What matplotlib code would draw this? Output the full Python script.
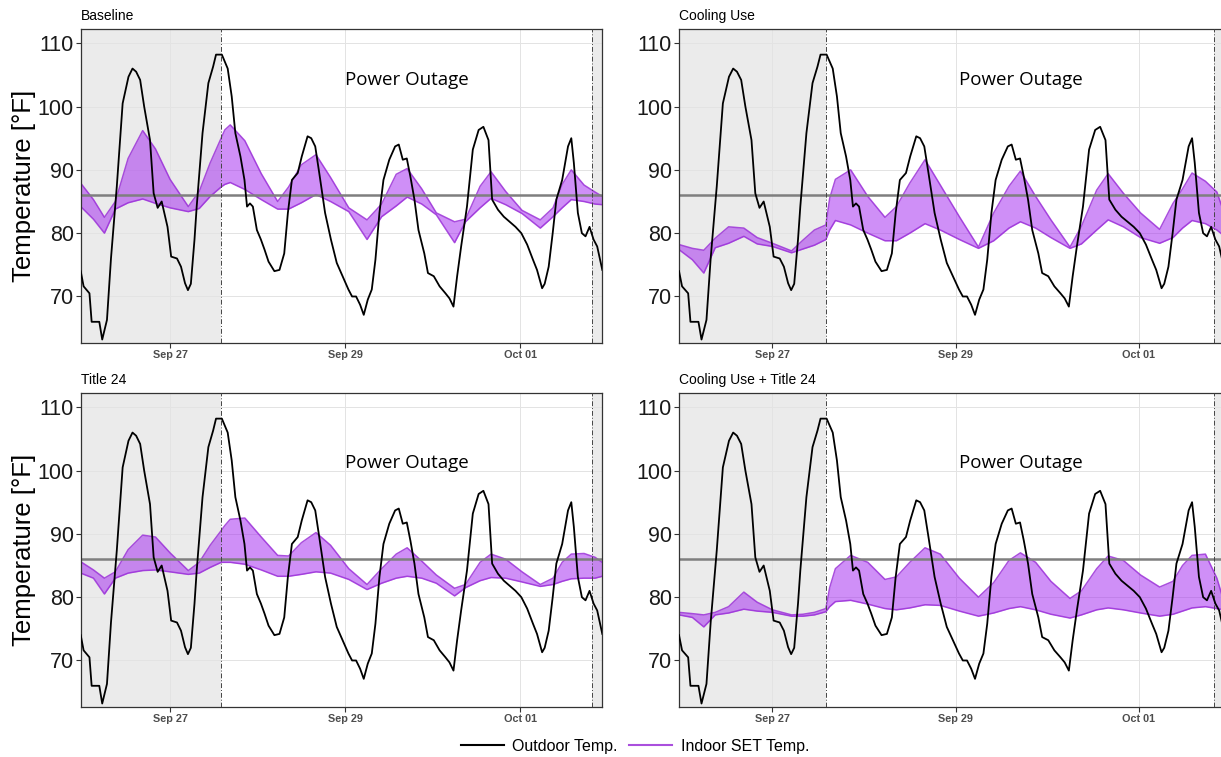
"""Outdoor vs indoor SET temperature during the late-September outage, four building cases."""
import numpy as np
import matplotlib
matplotlib.use('Agg')
import matplotlib.pyplot as plt
import matplotlib.dates as mdates
from matplotlib.lines import Line2D

plt.rcParams['font.family'] = ['Liberation Sans', 'DejaVu Sans']

START = np.datetime64('2020-09-26T00:00')

# outdoor dry-bulb, hours after Sep 26 00:00
out_hours = [-0.5, 0.3, 1.9, 2.5, 4.6, 5.4, 6.7, 7.8, 9.4, 11.0, 12.6, 13.7, 14.7, 15.8, 16.9,
             18.5, 19.5, 20.6, 21.7, 23.3, 24.3, 25.9, 27.0, 28.1, 28.9, 29.7, 30.7, 31.3, 32.9,
             34.5, 35.8, 36.6, 38.2, 39.8, 40.9, 41.9, 43.3, 44.4, 45.1, 45.9, 46.7, 47.8, 48.9,
             49.9, 51.0, 52.6, 54.0, 55.3, 56.3, 57.4, 59.0, 60.1, 61.7, 62.7, 63.8, 64.9, 66.5,
             68.1, 69.7, 71.3, 72.9, 73.9, 75.0, 76.1, 77.1, 78.2, 79.3, 80.3, 81.4, 82.5, 84.1,
             85.7, 86.7, 87.8, 88.9, 89.9, 91.0, 92.1, 93.7, 94.7, 96.3, 97.9, 99.5, 100.6, 101.7,
             102.7, 103.8, 105.4, 107.0, 108.6, 109.9, 111.3, 112.3, 113.9, 115.5, 117.1, 118.7,
             120.3, 121.9, 123.5, 124.6, 126.0, 126.7, 127.8, 128.9, 129.9, 131.5, 133.1, 134.0,
             134.7, 135.8, 136.9, 137.9, 139.0, 140.1, 141.1, 142.5]
out_temp = [74.0, 71.6, 70.5, 66.0, 66.0, 63.2, 66.3, 76.0, 87.4, 100.5, 104.7, 106.0, 105.5, 104.2, 100.0,
            94.7, 86.3, 84.0, 85.0, 81.0, 76.3, 76.0, 74.7, 72.1, 71.0, 72.0, 79.0, 84.2, 95.8,
            103.7, 106.3, 108.2, 108.2, 106.0, 101.6, 95.8, 92.1, 88.4, 84.2, 84.7, 84.2, 80.5, 79.0,
            77.4, 75.5, 74.0, 74.2, 76.8, 83.2, 88.4, 89.5, 92.1, 95.3, 95.0, 93.7, 89.5, 83.2,
            79.0, 75.3, 73.2, 71.1, 70.0, 70.0, 68.7, 67.1, 69.5, 71.1, 75.8, 83.2, 88.4, 91.6,
            93.7, 94.0, 91.6, 91.8, 88.9, 85.3, 80.5, 76.8, 73.7, 73.2, 71.6, 70.5, 69.7, 68.4,
            73.2, 77.9, 84.2, 93.2, 96.3, 96.8, 94.7, 85.3, 83.7, 82.6, 81.8, 81.0,
            80.0, 78.2, 75.8, 74.2, 71.3, 72.0, 74.7, 80.0, 85.3, 88.4, 93.7, 95.0,
            91.1, 83.2, 80.0, 79.5, 81.0, 79.0, 77.9, 74.2]

# indoor SET envelope (upper / lower), same hour grid for every case
set_hours = [-0.5, 3, 6, 9, 12.5, 16.5, 20, 24, 29, 32, 35, 38, 39, 40.5, 44.5, 49, 53.5, 56.5,
             60, 64, 68, 73, 78, 82, 86, 89, 93, 97, 102, 105, 109, 112, 116, 120.5, 125.5,
             129, 131.5, 134, 137.5, 140.5, 142.5]
baseline_hi = [87.9, 85.3, 82.5, 85.0, 91.8, 96.2, 93.3, 88.5, 84.2, 86.6, 91.1, 95.0, 96.3, 97.1,
               94.6, 89.4, 85.0, 87.3, 90.8, 92.4, 88.8, 84.0, 82.1, 84.6, 89.3, 90.2, 87.0, 83.2,
               81.8, 82.2, 87.4, 89.7, 86.6, 83.6, 82.1, 84.0, 87.7, 90.0, 87.6, 86.5, 85.8]
baseline_lo = [84.2, 82.2, 80.0, 83.8, 84.8, 85.4, 84.7, 84.0, 83.4, 83.9, 85.8, 87.3, 87.7, 88.0,
               86.9, 85.3, 83.8, 83.8, 84.8, 86.1, 85.0, 83.4, 79.0, 82.6, 84.3, 85.7, 84.6, 82.9,
               78.5, 81.8, 84.0, 85.5, 84.5, 83.1, 80.8, 82.6, 84.0, 85.3, 85.0, 84.6, 84.5]
cooling_hi = [78.2, 77.6, 77.3, 79.2, 81.0, 80.8, 79.3, 78.4, 77.2, 78.9, 80.5, 81.3, 85.5, 88.5,
              90.0, 85.8, 82.5, 84.2, 87.9, 91.6, 87.6, 82.6, 77.8, 83.2, 87.4, 89.8, 85.8, 82.1,
              77.8, 81.1, 86.8, 89.4, 86.3, 83.2, 80.6, 84.7, 87.0, 89.5, 88.2, 86.5, 83.0]
cooling_lo = [77.4, 75.8, 73.7, 77.7, 78.4, 79.5, 78.3, 77.9, 76.9, 77.5, 78.1, 79.0, 80.5, 82.0,
              81.3, 80.0, 78.8, 78.8, 80.0, 81.5, 80.5, 79.0, 77.6, 78.8, 80.8, 81.8, 80.8, 79.3,
              77.6, 78.3, 80.5, 82.1, 81.0, 79.3, 78.4, 79.3, 80.8, 82.0, 81.5, 80.5, 79.5]
title24_hi = [85.6, 84.3, 83.0, 84.0, 87.5, 89.8, 89.5, 87.0, 84.2, 85.5, 88.2, 90.5, 91.3, 92.3,
              92.5, 89.5, 86.6, 86.5, 88.6, 90.2, 88.2, 84.5, 82.0, 84.5, 86.8, 87.8, 85.7, 83.5,
              81.4, 82.0, 85.5, 86.8, 86.0, 84.0, 82.0, 83.0, 85.5, 86.8, 86.9, 86.3, 85.5]
title24_lo = [83.8, 83.0, 80.5, 83.0, 83.8, 84.2, 84.3, 84.0, 83.6, 83.8, 84.7, 85.5, 85.5, 85.5,
              85.2, 84.3, 83.3, 83.3, 83.6, 84.0, 83.8, 82.8, 81.2, 82.2, 83.0, 83.3, 83.0, 82.2,
              80.2, 81.5, 82.6, 83.1, 83.0, 82.4, 81.7, 82.0, 82.5, 82.9, 83.0, 83.0, 83.3]
combo_hi = [77.6, 77.4, 77.2, 77.6, 78.5, 80.8, 79.2, 78.0, 77.2, 77.3, 77.6, 78.2, 81.5, 84.5,
            86.6, 85.5, 82.8, 83.2, 85.5, 87.8, 86.8, 83.0, 80.0, 82.3, 85.8, 87.0, 85.5, 82.5,
            79.8, 81.0, 84.5, 86.5, 85.8, 83.5, 81.6, 82.5, 85.0, 86.6, 86.8, 83.0, 79.0]
combo_lo = [77.2, 76.8, 75.3, 77.2, 77.5, 78.1, 77.8, 77.6, 77.0, 77.0, 77.2, 77.7, 78.5, 79.3,
            79.5, 78.9, 78.2, 78.0, 78.3, 78.8, 78.7, 77.8, 77.0, 77.5, 78.2, 78.5, 78.0, 77.3,
            76.7, 77.2, 78.0, 78.3, 78.0, 77.5, 77.0, 77.3, 77.8, 78.3, 78.5, 78.2, 78.0]

panel_titles = ["Baseline", "Cooling Use", "Title 24", "Cooling Use + Title 24"]
outage_hours = [38.0, 139.8]
x_range_hours = [-0.5, 142.5]
threshold = 86
label_temp = [104.2, 104.2, 101.2, 101.2]

PURPLE = "#A020F0"
EDGE = "#9B30D8"


def to_time(hours):
    mins = np.round(np.asarray(hours, dtype=float) * 60).astype(int)
    return START + mins.astype('timedelta64[m]')


W, H = 1221, 757
fig = plt.figure(figsize=(W / 100, H / 100), dpi=100)
# axes boxes in pixels: left, top, right, bottom
boxes = [(80.7, 29.3, 602.3, 342.7), (679, 29.3, 1224.5, 342.7),
         (80.7, 393.3, 602.3, 706.7), (679, 393.3, 1224.5, 706.7)]
envelopes = [(baseline_hi, baseline_lo), (cooling_hi, cooling_lo),
             (title24_hi, title24_lo), (combo_hi, combo_lo)]

t_out = to_time(out_hours)
t_set = to_time(set_hours)
t0, t1 = to_time(x_range_hours)
o0, o1 = to_time(outage_hours)

for i, (box, (hi, lo), title) in enumerate(zip(boxes, envelopes, panel_titles)):
    l, t, r, b = box
    ax = fig.add_axes([l / W, 1 - b / H, (r - l) / W, (b - t) / H])

    ax.axvspan(t0, o0, color="#EBEBEB", zorder=0.3, lw=0)
    ax.axvspan(o1, t1, color="#EBEBEB", zorder=0.3, lw=0)
    ax.grid(True, color="#E3E3E3", lw=0.7, zorder=0.5)
    ax.set_axisbelow(True)

    ax.fill_between(t_set, lo, hi, color=PURPLE, alpha=0.5, lw=0, zorder=2)
    ax.plot(t_set, hi, color=EDGE, lw=1.1, alpha=0.85, zorder=2.2)
    ax.plot(t_set, lo, color=EDGE, lw=1.1, alpha=0.85, zorder=2.2)
    ax.axhline(threshold, color="#7F7F7F", lw=1.8, zorder=2.5)
    ax.plot(t_out, out_temp, color="black", lw=1.3, zorder=3)

    for tv in (o0, o1):
        ax.axvline(tv, color="#444444", lw=0.7, ls=(0, (5, 2, 1, 2)), zorder=2.6)

    ax.text(to_time(89.0), label_temp[i], "Power Outage", family="Open Sans",
            fontsize=13.5, ha="center", va="center", zorder=4)

    ax.set_xlim(t0, t1)
    ax.set_ylim(62.7, 112.2)
    ax.set_yticks([70, 80, 90, 100, 110])
    ax.set_xticks(to_time([24, 72, 120]))
    ax.xaxis.set_major_formatter(mdates.DateFormatter("%b %d"))
    ax.tick_params(axis="y", labelsize=15.5, length=3.5, pad=1.5, color="#333333",
                   labelcolor="#1A1A1A")
    ax.tick_params(axis="x", labelsize=7.8, length=3.5, pad=2, color="#333333",
                   labelcolor="#4D4D4D")
    for lab in ax.get_xticklabels():
        lab.set_fontweight("bold")
    for sp in ax.spines.values():
        sp.set_color("#333333")
        sp.set_linewidth(0.9)

    ax.annotate(title, xy=(0, 1), xycoords="axes fraction", xytext=(0, 7),
                textcoords="offset points", fontsize=10, va="baseline", ha="left")
    if i % 2 == 0:
        ax.set_ylabel("Temperature [°F]", fontsize=18.5, labelpad=1)

handles = [Line2D([], [], color="black", lw=1.5),
           Line2D([], [], color=EDGE, lw=1.5, alpha=0.85)]
fig.legend(handles, ["Outdoor Temp.", "Indoor SET Temp."], loc="center",
           bbox_to_anchor=(635 / W, 1 - 746 / H), ncol=2, frameon=False, fontsize=11.5,
           handlelength=2.7, handletextpad=0.55, columnspacing=0.7)

fig.savefig("out.png", dpi=100)
